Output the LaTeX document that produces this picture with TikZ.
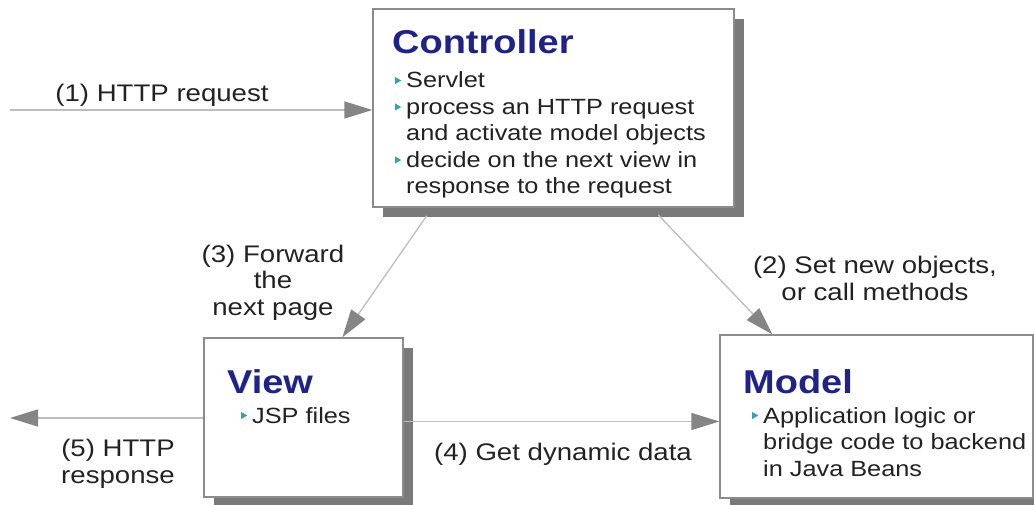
\documentclass[tikz,border=0pt]{standalone}
\usepackage{fontspec}
\setmainfont{Liberation Sans}[FakeStretch=1.15]
\usetikzlibrary{arrows.meta,shadows,positioning}

\definecolor{titleblue}{HTML}{1F2288}
\definecolor{bulletcyan}{HTML}{2FA3B5}
\definecolor{boxgray}{HTML}{8C8C8C}
\definecolor{shadowgray}{HTML}{7A7A7A}
\definecolor{linegray}{HTML}{BDBDBD}
\definecolor{tipgray}{HTML}{858585}
\definecolor{textgray}{HTML}{222222}

\newcommand{\bul}{\makebox[11pt][l]{\tikz[baseline=-4pt]\fill[bulletcyan] (0pt,0pt) -- (0pt,7pt) -- (6pt,3.5pt) -- cycle;}}
\newcommand{\nobul}{\hspace*{11pt}}

\begin{document}
\begin{tikzpicture}[x=1pt,y=-1pt,
  box/.style={draw=boxgray,line width=1.3pt,fill=white,inner sep=0pt,
    drop shadow={shadow xshift=10pt,shadow yshift=-10pt,fill=shadowgray,opacity=1}},
  boxtitle/.style={anchor=base west,inner sep=0pt,text=titleblue,font=\fontsize{33}{36}\selectfont\bfseries},
  items/.style={anchor=base west,inner sep=0pt,align=left,text=textgray,font=\fontsize{22}{26.5}\selectfont},
  lbl/.style={anchor=base,inner sep=0pt,align=center,text=textgray,font=\fontsize{24}{27}\selectfont},
  flow/.style={draw=linegray,line width=1.3pt,-{Triangle[length=28pt,width=17pt,color=tipgray]}}]

\useasboundingbox (0,0) rectangle (1034,505);

% the three boxes
\node[box,minimum width=361pt,minimum height=198pt] (ctrl) at (553.5,108) {};
\node[box,minimum width=199pt,minimum height=159pt] (view) at (303.5,417.5) {};
\node[box,minimum width=313pt,minimum height=163pt] (model) at (876.5,416.5) {};

% text is placed by the baseline of its last line
\node[boxtitle] (ctrl-title) at (392,54) {Controller};
\node[items] (ctrl-items) at (395,194) {\bul Servlet\\
  \bul process an HTTP request\\
  \nobul and activate model objects\\
  \bul decide on the next view in\\
  \nobul response to the request};

\node[boxtitle] (view-title) at (227,393) {View};
\node[items] (view-items) at (241,423) {\bul JSP files};

\node[boxtitle] (model-title) at (743,393) {Model};
\node[items] (model-items) at (752,476) {\bul Application logic or\\
  \nobul bridge code to backend\\
  \nobul in Java Beans};

% requests and responses
\coordinate (in) at (10,110);
\coordinate (out) at (10,418);
\draw[flow] (in) -- (in -| ctrl.west);
\draw[flow,shorten <=10pt] ([xshift=279pt]ctrl.south west) -- ([xshift=53pt]model.north west);
\draw[flow,shorten <=10pt] ([xshift=60pt]ctrl.south west) -- ([xshift=139pt]view.north west);
\draw[flow] ([yshift=-4pt]view.east) -- ([yshift=-4pt]view.east -| model.west);
\draw[flow] (view.west |- out) -- (out);

\node[lbl] (req) at (162,102) {(1) HTTP request};
\node[lbl] (set) at (875,301) {(2) Set new objects,\\or call methods};
\node[lbl] (fwd) at (273,316) {(3) Forward\\the\\next page};
\node[lbl] (get) at (563,460) {(4) Get dynamic data};
\node[lbl] (resp) at (118,483) {(5) HTTP\\response};
\end{tikzpicture}
\end{document}
